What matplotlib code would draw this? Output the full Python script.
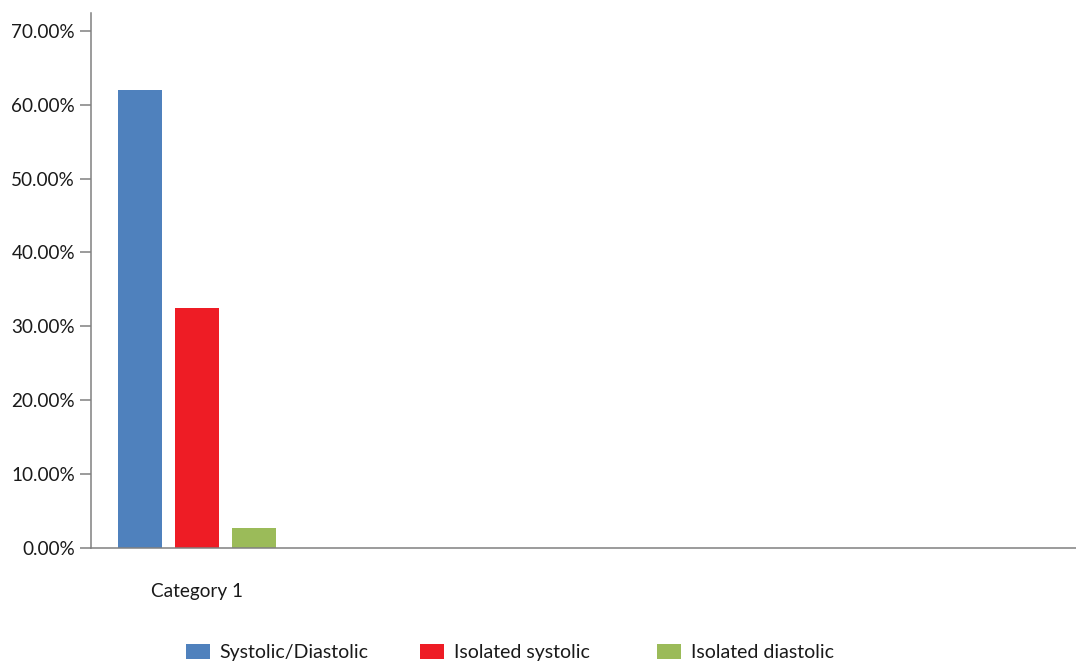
import matplotlib.pyplot as plt
from matplotlib.ticker import FuncFormatter

# Hypertension type shares for the single category
categories = ['Category 1']
series_names = ['Systolic/Diastolic', 'Isolated systolic', 'Isolated diastolic']
series_values = [62.0, 32.5, 2.75]
series_colors = ['#4f81bd', '#ee1c25', '#9bbb59']
y_ticks = [0, 10, 20, 30, 40, 50, 60, 70]

plt.rcParams['font.family'] = ['Lato', 'DejaVu Sans']

fig = plt.figure(figsize=(10.76, 6.62), dpi=100)
ax = fig.add_axes([91 / 1076, 114 / 662, 1 - 91 / 1076, 535 / 662])

bar_w = 0.25
step = 0.324
bars = []
for i, (name, val, col) in enumerate(zip(series_names, series_values, series_colors)):
    bars.append(ax.bar(0 + (i - 1) * step, val, width=bar_w, color=col, label=name))

ax.set_xlim(-0.6, 5.0)
ax.set_ylim(0, 72.4)
ax.set_yticks(y_ticks)
ax.yaxis.set_major_formatter(FuncFormatter(lambda v, p: f'{v:.2f}%'))
ax.set_xticks(range(len(categories)))
ax.set_xticklabels(categories)

for side in ['top', 'right']:
    ax.spines[side].set_visible(False)
for side in ['left', 'bottom']:
    ax.spines[side].set_color('#808080')
    ax.spines[side].set_linewidth(1.1)

ax.tick_params(axis='y', length=8, width=1.1, color='#808080', labelsize=13.6, labelcolor='#1a1a1a', pad=3.5)
ax.tick_params(axis='x', length=0, labelsize=13.7, labelcolor='#1a1a1a', pad=25)

# legend entries sit in evenly sized slots along the bottom
slot_x = [186, 420, 657]
for b, name, x0 in zip(bars, series_names, slot_x):
    fig.legend([b], [name], loc='upper left', bbox_to_anchor=(x0 / 1076, 1 - 644 / 662),
               frameon=False, fontsize=14, handlelength=1.23, handleheight=0.78,
               handletextpad=0.5, borderpad=0, borderaxespad=0, labelcolor='#1a1a1a')

plt.savefig('out.png', dpi=100)
